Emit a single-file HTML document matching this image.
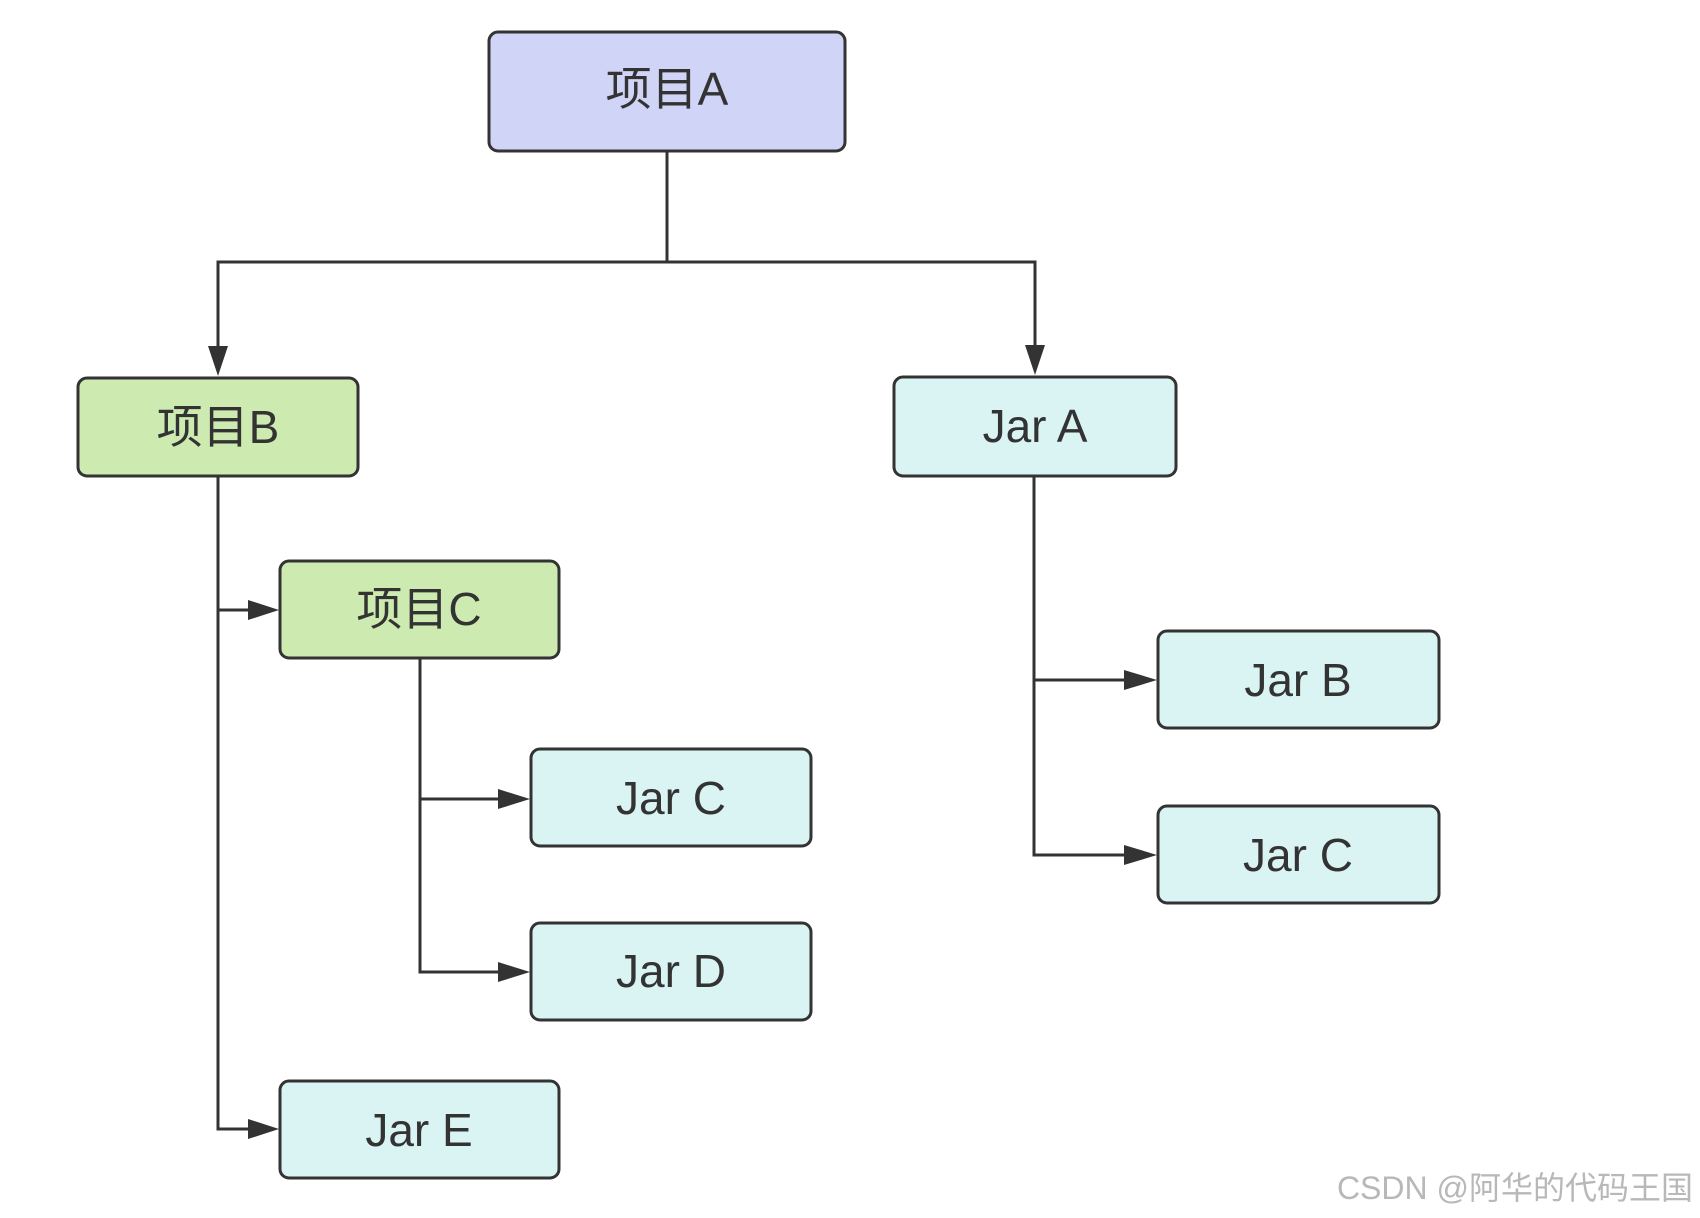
<!DOCTYPE html>
<html><head><meta charset="utf-8"><style>
html,body{margin:0;padding:0;background:#fff;}
svg{display:block;}
text{font-family:"Liberation Sans","Noto Sans CJK SC",sans-serif;fill:#333;}
</style></head><body>
<svg width="1700" height="1218" viewBox="0 0 1700 1218" xmlns="http://www.w3.org/2000/svg">
<g stroke="#333" stroke-width="3" fill="none">
<polyline points="667,151 667,262"/>
<polyline points="218,351 218,262 1035,262 1035,351"/>
<polyline points="218,476 218,1129 255,1129"/>
<polyline points="218,610 255,610"/>
<polyline points="420,657 420,972 508,972"/>
<polyline points="420,799 508,799"/>
<polyline points="1034,476 1034,855 1130,855"/>
<polyline points="1034,680 1130,680"/>
</g>
<g fill="#333">
<polygon points="208,346 228,346 218,376"/>
<polygon points="1025,345 1045,345 1035,375"/>
<polygon points="248,600 248,620 279,610"/>
<polygon points="248,1119 248,1139 279,1129"/>
<polygon points="498,789 498,809 530,799"/>
<polygon points="498,962 498,982 530,972"/>
<polygon points="1124,670 1124,690 1157,680"/>
<polygon points="1124,845 1124,865 1157,855"/>
</g>
<g stroke="#333" stroke-width="3">
<rect x="489" y="32" width="356" height="119" rx="9" fill="#d0d4f7"/>
<rect x="78" y="378" width="280" height="98" rx="9" fill="#cdeab0"/>
<rect x="894" y="377" width="282" height="99" rx="9" fill="#daf4f4"/>
<rect x="280" y="561" width="279" height="97" rx="9" fill="#cdeab0"/>
<rect x="531" y="749" width="280" height="97" rx="9" fill="#daf4f4"/>
<rect x="531" y="923" width="280" height="97" rx="9" fill="#daf4f4"/>
<rect x="280" y="1081" width="279" height="97" rx="9" fill="#daf4f4"/>
<rect x="1158" y="631" width="281" height="97" rx="9" fill="#daf4f4"/>
<rect x="1158" y="806" width="281" height="97" rx="9" fill="#daf4f4"/>
</g>
<g font-size="46" text-anchor="middle">
<text x="667" y="105">项目A</text>
<text x="218" y="443">项目B</text>
<text x="1035" y="442">Jar A</text>
<text x="419" y="625">项目C</text>
<text x="671" y="814">Jar C</text>
<text x="671" y="987">Jar D</text>
<text x="419" y="1146">Jar E</text>
<text x="1298" y="696">Jar B</text>
<text x="1298" y="871">Jar C</text>
</g>
<text x="1693" y="1199" font-size="32" text-anchor="end" style="fill:#b8b8b8">CSDN @阿华的代码王国</text>
</svg>
</body></html>
